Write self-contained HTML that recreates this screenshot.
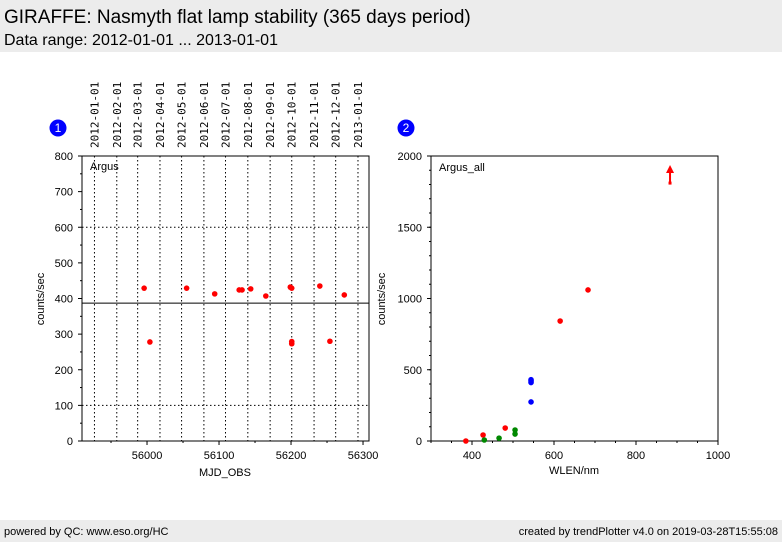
<!DOCTYPE html>
<html><head><meta charset="utf-8">
<style>
body{margin:0;width:782px;height:542px;background:#fff;font-family:"Liberation Sans",sans-serif;overflow:hidden;position:relative}
.hdr{position:absolute;left:0;top:0;width:782px;height:52px;background:#ececec}
.ftr{position:absolute;left:0;top:520px;width:782px;height:22px;background:#ececec;font-size:11px}
svg{position:absolute;left:0;top:0}
</style></head><body>
<div class="hdr">
<div style="position:absolute;left:4px;top:7px;font-size:19px">GIRAFFE: Nasmyth flat lamp stability (365 days period)</div>
<div style="position:absolute;left:4px;top:32px;font-size:16px">Data range: 2012-01-01 ... 2013-01-01</div>
</div>
<div class="ftr">
<span style="position:absolute;left:4px;top:6px">powered by QC: www.eso.org/HC</span>
<span style="position:absolute;right:4px;top:6px">created by trendPlotter v4.0 on 2019-03-28T15:55:08</span>
</div>
<svg id="c" width="782" height="542"></svg>
<script>
const leftDates=[55927,55958,55987,56018,56048,56079,56109,56140,56171,56201,56232,56262,56293];
const leftDateLabels=["2012-01-01","2012-02-01","2012-03-01","2012-04-01","2012-05-01","2012-06-01","2012-07-01","2012-08-01","2012-09-01","2012-10-01","2012-11-01","2012-12-01","2013-01-01"];
const leftXTicks=[56000,56100,56200,56300];
const leftYTicks=[0,100,200,300,400,500,600,700,800];
const leftMjd=[55996,56004,56055,56094,56128,56132,56144,56165,56199,56201,56201,56201,56240,56254,56274];
const leftVal=[429,278,429,413,424,424,427,407,432,429,279,273,435,280,410];
const leftRef=[387];
const leftLimits=[100,600];
const rightXTicks=[400,600,800,1000];
const rightYTicks=[0,500,1000,1500,2000];
const rightRedX=[385,427,481,615,683];
const rightRedY=[0,42,91,842,1060];
const rightGreenX=[430,466,505,505];
const rightGreenY=[7,20,77,49];
const rightBlueX=[544,544,544,544];
const rightBlueY=[421,410,430,274];
const rightArrowX=[883];
const rightArrowY=[1810];

const svg=document.getElementById('c');const NS='http://www.w3.org/2000/svg';
function el(t,a,txt){const e=document.createElementNS(NS,t);for(const k in a)e.setAttribute(k,a[k]);if(txt!==undefined)e.textContent=txt;svg.appendChild(e);return e;}
const L={x0:82,x1:369,y0:441,y1:156,xmin:55909.7,xmax:56308.3,ymin:0,ymax:800};
const lx=v=>L.x0+(v-L.xmin)/(L.xmax-L.xmin)*(L.x1-L.x0);
const ly=v=>L.y0-(v-L.ymin)/(L.ymax-L.ymin)*(L.y0-L.y1);
leftDates.forEach((d,i)=>{
 let g=el('line',{x1:lx(d),x2:lx(d),y1:L.y1,y2:L.y0,stroke:'#000','stroke-dasharray':'1.5,2.5','stroke-width':1});
 
 let t=el('text',{x:0,y:0,transform:`translate(${lx(d)+4},148) rotate(-90)`,'font-size':11,'font-family':'DejaVu Sans Mono,Liberation Mono,monospace'},leftDateLabels[i]);
 
});
leftLimits.forEach(v=>{let g=el('line',{x1:L.x0,x2:L.x1,y1:ly(v),y2:ly(v),stroke:'#000','stroke-dasharray':'1.5,2.5'});
 });
leftRef.forEach(v=>{let g=el('line',{x1:L.x0,x2:L.x1,y1:ly(v),y2:ly(v),stroke:'#000','stroke-width':1});
 });
let f=el('rect',{x:L.x0,y:L.y1,width:L.x1-L.x0,height:L.y0-L.y1,fill:'none',stroke:'#000'});

leftXTicks.forEach(v=>{el('line',{x1:lx(v),x2:lx(v),y1:L.y0,y2:L.y0+4,stroke:'#000'});
 let t=el('text',{x:lx(v),y:L.y0+18,'font-size':11,'text-anchor':'middle'},v);
 });
for(let v=55950;v<56310;v+=50){el('line',{x1:lx(v),x2:lx(v),y1:L.y0,y2:L.y0+2,stroke:'#000'});}
leftYTicks.forEach(v=>{el('line',{x1:L.x0-4,x2:L.x0,y1:ly(v),y2:ly(v),stroke:'#000'});
 let t=el('text',{x:L.x0-9,y:ly(v)+4,'font-size':11,'text-anchor':'end'},v);
 });
for(let v=50;v<800;v+=100){el('line',{x1:L.x0-2,x2:L.x0,y1:ly(v),y2:ly(v),stroke:'#000'});}
let t1=el('text',{x:90,y:170,'font-size':11},'Argus');
let xt=el('text',{x:225,y:476,'font-size':11,'text-anchor':'middle'},'MJD_OBS');
let yt=el('text',{x:0,y:0,transform:'translate(44,299) rotate(-90)','font-size':11,'text-anchor':'middle'},'counts/sec');
leftMjd.forEach((d,i)=>{let c=el('circle',{cx:lx(d),cy:ly(leftVal[i]),r:2.8,fill:'#f00'});
 });
[[58,'1'],[406,'2']].forEach(([x,n])=>{let c=el('circle',{cx:x,cy:128,r:8.5,fill:'#00f'});
 
 el('text',{x:x,y:132,'font-size':12,fill:'#fff','text-anchor':'middle'},n);});
const R={x0:431,x1:718,y0:441,y1:156,xmin:300,xmax:1000,ymin:0,ymax:2000};
const rx=v=>R.x0+(v-R.xmin)/(R.xmax-R.xmin)*(R.x1-R.x0);
const ry=v=>R.y0-(v-R.ymin)/(R.ymax-R.ymin)*(R.y0-R.y1);
let f2=el('rect',{x:R.x0,y:R.y1,width:R.x1-R.x0,height:R.y0-R.y1,fill:'none',stroke:'#000'});

rightXTicks.forEach(v=>{el('line',{x1:rx(v),x2:rx(v),y1:R.y0,y2:R.y0+4,stroke:'#000'});
 let t=el('text',{x:rx(v),y:R.y0+18,'font-size':11,'text-anchor':'middle'},v);
 });
for(let v=300;v<=1000;v+=50){el('line',{x1:rx(v),x2:rx(v),y1:R.y0,y2:R.y0+2,stroke:'#000'});}
rightYTicks.forEach(v=>{el('line',{x1:R.x0-4,x2:R.x0,y1:ry(v),y2:ry(v),stroke:'#000'});
 let t=el('text',{x:R.x0-9,y:ry(v)+4,'font-size':11,'text-anchor':'end'},v);
 });
for(let v=100;v<2000;v+=100){el('line',{x1:R.x0-2,x2:R.x0,y1:ry(v),y2:ry(v),stroke:'#000'});}
let t2=el('text',{x:439,y:171,'font-size':11},'Argus_all');
let xt2=el('text',{x:574,y:474,'font-size':11,'text-anchor':'middle'},'WLEN/nm');
let yt2=el('text',{x:0,y:0,transform:'translate(385,299) rotate(-90)','font-size':11,'text-anchor':'middle'},'counts/sec');
function pts(xs,ys,col,name){xs.forEach((x,i)=>{let c=el('circle',{cx:rx(x),cy:ry(ys[i]),r:2.8,fill:col});
 });}
pts(rightRedX,rightRedY,'#f00','red-point');pts(rightGreenX,rightGreenY,'#080','green-point');pts(rightBlueX,rightBlueY,'#00f','blue-point');
rightArrowX.forEach((x,i)=>{const X=rx(x),Y=ry(rightArrowY[i]);
 let a=el('line',{x1:X,x2:X,y1:Y,y2:R.y1+14,stroke:'#f00','stroke-width':2});
 
 el('rect',{x:X-1.5,y:Y-1.5,width:3,height:3,fill:'#f00'});
 el('polygon',{points:`${X-4},${R.y1+17} ${X+4},${R.y1+17} ${X},${R.y1+9}`,fill:'#f00'});});
</script>
</body></html>
